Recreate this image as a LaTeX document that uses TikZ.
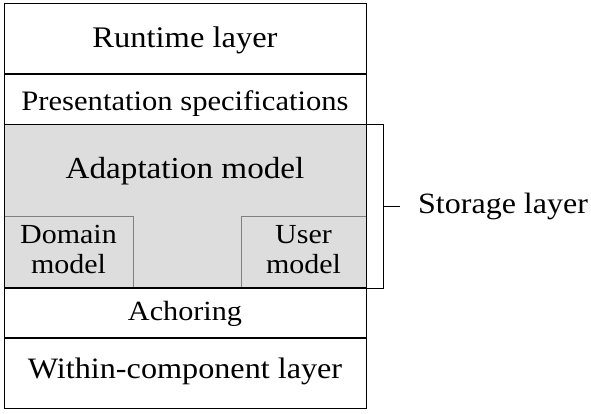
\documentclass[tikz,border=0pt]{standalone}
\usepackage{fontspec}
\setmainfont{Liberation Serif}
\usepackage{graphicx}
\definecolor{adaptgray}{HTML}{DDDDDD}
\definecolor{boxgray}{HTML}{808080}
\newcommand{\sq}[1]{\scalebox{1}[0.92]{#1}}
\tikzset{
  bigtext/.style={inner sep=0pt, anchor=base, font=\fontsize{32.5}{35}\selectfont},
  smalltext/.style={inner sep=0pt, anchor=base, font=\fontsize{30.2}{33}\selectfont},
  submodel/.style={draw=boxgray, fill=adaptgray, line width=1pt, minimum height=72pt,
    inner sep=0pt, outer sep=0pt, font=\fontsize{30}{32.6}\selectfont},
  sepline/.style={line width=2pt}
}

\begin{document}
\begin{tikzpicture}[x=1pt,y=-1pt]
\useasboundingbox (0,0) rectangle (591,413);
\node[fill=adaptgray, minimum width=362pt, minimum height=164pt, inner sep=0pt, outer sep=0pt] (store) at (185,206) {};
\node[submodel, minimum width=129pt] (domain) at (68.5,252) {\raisebox{-2pt}{\sq{\begin{tabular}{@{}c@{}}Domain\\model\end{tabular}}}};
\node[submodel, minimum width=125pt] (user) at (303.5,252) {\raisebox{-2pt}{\sq{\begin{tabular}{@{}c@{}}User\\model\end{tabular}}}};
\draw[line width=1pt] (4,3) rectangle (366,408);
\draw[sepline] (4,74) -- (366,74);
\draw[line width=1pt] (store.north west) -- (store.north east);
\draw[sepline] (store.south west) -- (store.south east);
\draw[sepline] (4,338) -- (366,338);
\node[bigtext] (runtime) at (185,47.5) {\sq{Runtime layer}};
\node[smalltext, font=\fontsize{30.6}{33}\selectfont] (present) at (185,110) {\sq{Presentation specifications}};
\node[bigtext, font=\fontsize{33.2}{35}\selectfont] (adapt) at (185,178) {\sq{Adaptation model}};
\node[smalltext] (anchor) at (185,320) {\sq{Achoring}};
\node[smalltext, font=\fontsize{32.2}{35}\selectfont] (within) at (185,378) {\sq{Within-component layer}};
\draw[line width=1pt] (store.north east) -- ++(17,0) coordinate (brtop) |- (store.south east);
\node[bigtext, font=\fontsize{32}{35}\selectfont, anchor=base west] (storage) at (418,213) {\sq{Storage layer}};
\draw[line width=1pt] (brtop |- store.east) -- ++(17,0);
\end{tikzpicture}
\end{document}
